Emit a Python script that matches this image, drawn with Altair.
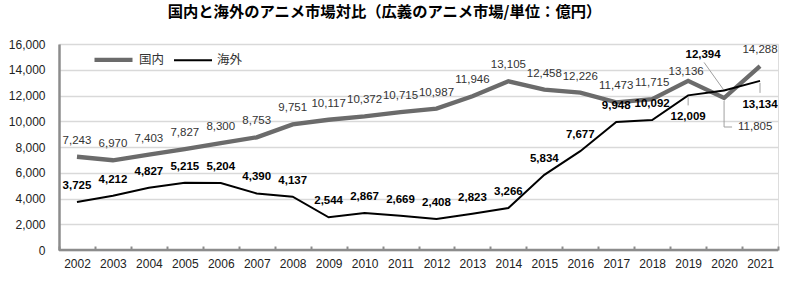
import altair as alt
import pandas as pd

years = [str(y) for y in range(2002, 2022)]
domestic = [7243, 6970, 7403, 7827, 8300, 8753, 9751, 10117, 10372, 10715,
            10987, 11946, 13105, 12458, 12226, 11473, 11715, 13136, 11805, 14288]
overseas = [3725, 4212, 4827, 5215, 5204, 4390, 4137, 2544, 2867, 2669,
            2408, 2823, 3266, 5834, 7677, 9948, 10092, 12009, 12394, 13134]
series_names = ["国内", "海外"]
y_ticks = [0, 2000, 4000, 6000, 8000, 10000, 12000, 14000, 16000]
title_text = "国内と海外のアニメ市場対比（広義のアニメ市場/単位：億円）"

rows = []
for i, y in enumerate(years):
    rows.append({"year": y, "series": series_names[0], "value": domestic[i]})
    rows.append({"year": y, "series": series_names[1], "value": overseas[i]})
df = pd.DataFrame(rows)

NUM_FONT = "Liberation Sans"
CJK_FONT = "Noto Sans CJK JP"

x_enc = alt.X("year:O", scale=alt.Scale(type="band", paddingInner=0, paddingOuter=0),
              axis=alt.Axis(title=None, labelAngle=0, domain=False, ticks=True, tickSize=4,
                            tickBand="extent", tickColor="#8c8c8c", tickWidth=2,
                            offset=-4, labelPadding=8, labelFont=NUM_FONT,
                            labelFontSize=12, labelColor="#222", grid=False))
y_axis = alt.Axis(title=None, values=y_ticks, ticks=False, domainColor="#8c8c8c",
                  domainWidth=2.5, gridColor="#d9d9d9", gridWidth=1.5,
                  labelFont=NUM_FONT, labelFontSize=12, labelColor="#222",
                  labelPadding=14, labelOverlap=False)
y_scale = alt.Scale(domain=[0, 16000], nice=False)
y_enc = alt.Y("value:Q", scale=y_scale, axis=y_axis)

base = alt.Chart(df).encode(x=x_enc, y=y_enc)

leg = alt.Legend(title=None, orient="none", legendX=33, legendY=-6,
                 direction="horizontal", symbolType="stroke",
                 symbolSize=1444, labelFont=CJK_FONT, labelFontSize=12.5,
                 labelColor="#333", columnPadding=5, labelOffset=4)

lines = base.mark_line().encode(
    color=alt.Color("series:N", scale=alt.Scale(domain=series_names, range=["#6b6b6b", "#000000"]),
                    legend=leg),
    strokeWidth=alt.StrokeWidth("series:N", scale=alt.Scale(domain=series_names, range=[4.3, 2]),
                                legend=leg),
)

bottom_line = alt.Chart(pd.DataFrame({"value": [0]})).mark_rule(color="#8c8c8c", strokeWidth=2.5).encode(
    y=alt.Y("value:Q", scale=y_scale, axis=y_axis))

lab = base.transform_calculate(label="format(datum.value, ',')")

dom = lab.transform_filter(alt.datum.series == series_names[0])
ovs = lab.transform_filter(alt.datum.series == series_names[1])

dom_style = dict(font=NUM_FONT, fontSize=11.5, color="#333", baseline="middle")
ovs_style = dict(font=NUM_FONT, fontSize=11.5, fontWeight="bold", color="#000", baseline="middle")

dom_main = dom.transform_filter("datum.year != '2019' && datum.year != '2020'").mark_text(dy=-16, **dom_style).encode(text="label:N")
dom_2019 = dom.transform_filter("datum.year == '2019'").mark_text(dy=-9, dx=-2, **dom_style).encode(text="label:N")
dom_2020 = dom.transform_filter("datum.year == '2020'").mark_text(dy=29, dx=14, align="left", **dom_style).encode(text="label:N")

ovs_main = ovs.transform_filter("toNumber(datum.year) <= 2018").mark_text(dy=-16, **ovs_style).encode(text="label:N")
ovs_2019 = ovs.transform_filter("datum.year == '2019'").mark_text(dy=22, **ovs_style).encode(text="label:N")
ovs_2020 = ovs.transform_filter("datum.year == '2020'").mark_text(dy=-35, dx=-21, **ovs_style).encode(text="label:N")
ovs_2021 = ovs.transform_filter("datum.year == '2021'").mark_text(dy=24, **ovs_style).encode(text="label:N")

lead = dict(color="#a0a0a0", strokeWidth=1)
r1 = ovs.transform_filter("datum.year == '2019'").mark_rule(yOffset=2, y2Offset=10, **lead).encode(y2="value:Q")
r2 = dom.transform_filter("datum.year == '2020'").mark_rule(yOffset=3, y2Offset=29, **lead).encode(y2="value:Q")
r3 = dom.transform_filter("datum.year == '2020'").mark_rule(yOffset=29, x2Offset=8, **lead).encode(x2="year:O")
r4 = ovs.transform_filter("datum.year == '2020'").mark_rule(x2Offset=-20, y2Offset=-28, **lead).encode(x2="year:O", y2="value:Q")
r5 = ovs.transform_filter("datum.year == '2021'").mark_rule(yOffset=2, y2Offset=12, **lead).encode(y2="value:Q")

chart = alt.layer(
    r1, r2, r3, r4, r5, lines, bottom_line,
    dom_main, dom_2019, dom_2020, ovs_main, ovs_2019, ovs_2020, ovs_2021
).properties(
    width=719, height=206,
    title=alt.TitleParams(title_text, font=CJK_FONT, fontSize=15.3, fontWeight="bold",
                          color="#000", anchor="middle", dx=-34, offset=18),
    autosize=alt.AutoSizeParams(type="none"),
    padding={"left": 59, "top": 44, "right": 22, "bottom": 32},
).configure_view(stroke=None).configure(background="white")

chart.save("out.html", embed_options={"renderer": "svg", "actions": False})
